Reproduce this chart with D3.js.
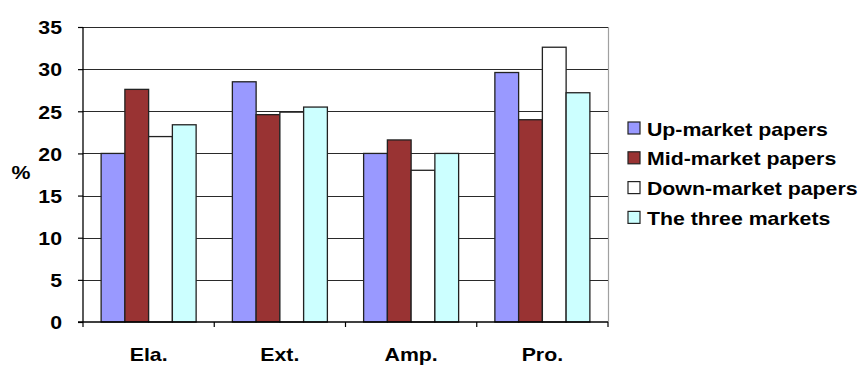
<!DOCTYPE html>
<html>
<head>
<meta charset="utf-8">
<script src="https://cdn.jsdelivr.net/npm/d3@7/dist/d3.min.js"></script>
<style>
  html, body { margin: 0; padding: 0; background: #fff; }
  svg { display: block; }
  text { font-family: "Liberation Sans", Arial, sans-serif; font-weight: bold; fill: #000; }
</style>
</head>
<body>
<svg id="chart" width="863" height="365"></svg>
<script>
// Share (%) of each category, by newspaper market
const categories = ["Ela.", "Ext.", "Amp.", "Pro."];
const seriesNames = ["Up-market papers", "Mid-market papers", "Down-market papers", "The three markets"];
const upMarket   = [20.0, 28.5, 20.0, 29.6];
const midMarket  = [27.6, 24.6, 21.6, 24.0];
const downMarket = [22.0, 24.9, 18.0, 32.6];
const threeMarkets = [23.4, 25.5, 20.0, 27.2];
const seriesColors = ["#9999ff", "#993333", "#ffffff", "#ccffff"];
const yTicks = [0, 5, 10, 15, 20, 25, 30, 35];
const yLabel = "%";

const seriesValues = [upMarket, midMarket, downMarket, threeMarkets];

const svg = d3.select("#chart");
const margin = { left: 83, right: 255, top: 27, bottom: 43 };
const W = 863, H = 365;
const plotW = W - margin.left - margin.right;
const plotH = H - margin.top - margin.bottom;

// Text in this chart is set slightly wide
const stretch = 1.12;
function widen(sel) {
  sel.each(function () {
    const len = this.getComputedTextLength();
    d3.select(this).attr("textLength", len * stretch).attr("lengthAdjust", "spacingAndGlyphs");
  });
}

const x0 = d3.scaleBand().domain(categories).range([0, plotW]).padding(0);
const x1 = d3.scaleBand().domain(seriesNames).range([0, x0.bandwidth()]).paddingInner(0).paddingOuter(0.763);
const y = d3.scaleLinear().domain([0, 35]).range([plotH, 0]);

const g = svg.append("g").attr("transform", `translate(${margin.left},${margin.top})`);

// plot frame (top and right edges)
g.append("path")
  .attr("d", `M0,0.5H${plotW + 0.5}V${plotH}`)
  .attr("fill", "none")
  .attr("stroke", "#a0a0a0")
  .attr("stroke-width", 1.2);

// horizontal gridlines
g.append("g")
  .selectAll("line")
  .data(yTicks.filter(d => d > 0))
  .join("line")
  .attr("x1", 0).attr("x2", plotW)
  .attr("y1", d => Math.round(y(d)) + 0.5).attr("y2", d => Math.round(y(d)) + 0.5)
  .attr("stroke", "#2a2a2a")
  .attr("stroke-width", 1.2);

// bars
const rows = categories.map((c, i) => ({ cat: c, vals: seriesNames.map((s, j) => ({ s, j, v: seriesValues[j][i] })) }));
g.append("g")
  .selectAll("g")
  .data(rows)
  .join("g")
  .attr("transform", d => `translate(${x0(d.cat)},0)`)
  .selectAll("rect")
  .data(d => d.vals)
  .join("rect")
  .attr("x", d => x1(d.s))
  .attr("y", d => y(d.v))
  .attr("width", x1.bandwidth())
  .attr("height", d => plotH - y(d.v))
  .attr("fill", d => seriesColors[d.j])
  .attr("stroke", "#222")
  .attr("stroke-width", 1.3);

// y axis
const yAxis = g.append("g")
  .call(d3.axisLeft(y).tickValues(yTicks).tickSize(5).tickPadding(16).tickFormat(d3.format("d")));
yAxis.select(".domain").attr("stroke", "#000").attr("stroke-width", 1.3).attr("d", `M0,0V${plotH}`);
yAxis.selectAll(".tick line").attr("stroke", "#000").attr("stroke-width", 1.2);
yAxis.selectAll(".tick text").attr("font-size", 19).attr("dy", "0.36em").call(widen);

// x axis: ticks on category boundaries, labels at band centres
const xAxis = g.append("g").attr("transform", `translate(0,${plotH})`);
xAxis.append("line")
  .attr("x1", -5).attr("x2", plotW).attr("y1", 0).attr("y2", 0)
  .attr("stroke", "#000").attr("stroke-width", 1.3);
xAxis.selectAll("line.tk")
  .data(categories.map(c => x0(c)).concat([plotW]))
  .join("line")
  .attr("class", "tk")
  .attr("x1", d => d).attr("x2", d => d)
  .attr("y1", 0).attr("y2", 5)
  .attr("stroke", "#000").attr("stroke-width", 1.2);
xAxis.selectAll("text")
  .data(categories)
  .join("text")
  .attr("x", d => x0(d) + x0.bandwidth() / 2)
  .attr("y", 39)
  .attr("text-anchor", "middle")
  .attr("font-size", 19)
  .text(d => d)
  .call(widen);

// y axis title
svg.append("text")
  .attr("x", 21).attr("y", 179)
  .attr("text-anchor", "middle")
  .attr("font-size", 19)
  .text(yLabel)
  .call(widen);

// legend
const legend = svg.append("g").attr("transform", "translate(628,122)");
const item = legend.selectAll("g")
  .data(seriesNames)
  .join("g")
  .attr("transform", (d, i) => `translate(0,${i * 29.8})`);
item.append("rect")
  .attr("x", 0).attr("y", 0)
  .attr("width", 12).attr("height", 12)
  .attr("fill", (d, i) => seriesColors[i])
  .attr("stroke", "#222")
  .attr("stroke-width", 1.2);
item.append("text")
  .attr("x", 19).attr("y", 13.5)
  .attr("font-size", 19)
  .text(d => d)
  .call(widen);
</script>
</body>
</html>
